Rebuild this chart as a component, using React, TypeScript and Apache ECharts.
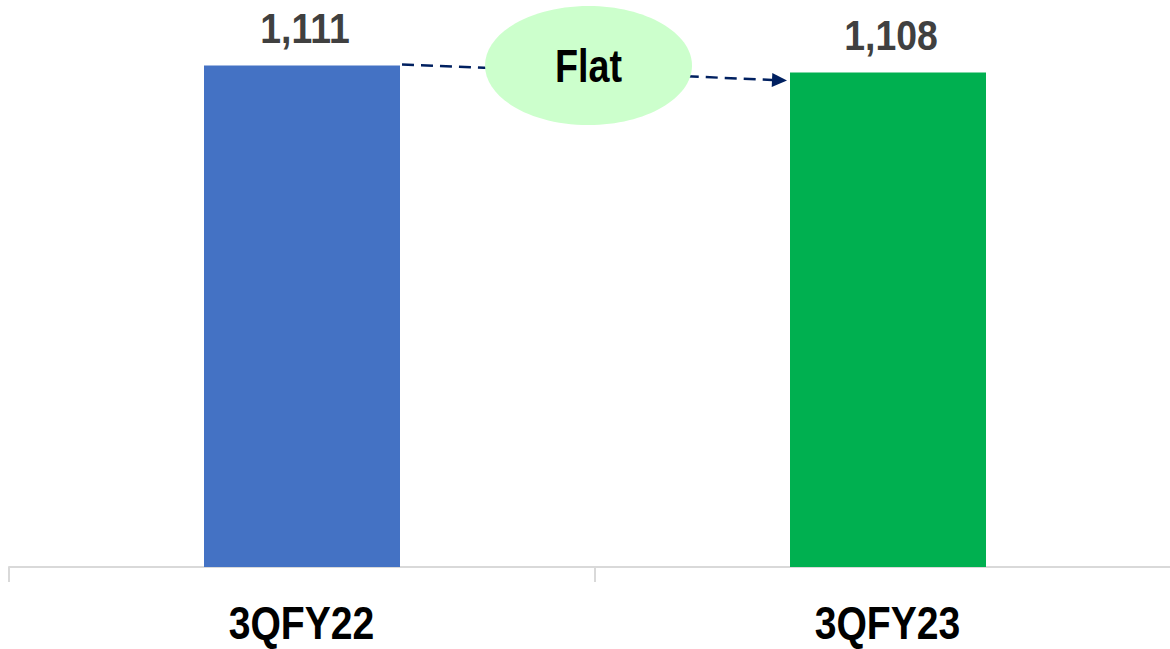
import React, { useEffect, useRef } from "react";
import * as echarts from "echarts";

const categories = ["3QFY22", "3QFY23"];
const values = [1111, 1108];
const barColors = ["#4472C4", "#00B050"];
const noteText = "Flat";

const FONT = "'Liberation Sans', Arial, sans-serif";

export default function App() {
  const ref = useRef<HTMLDivElement>(null);

  useEffect(() => {
    document.body.style.margin = "0";
    if (!ref.current) return;
    const chart = echarts.init(ref.current, undefined, { renderer: "svg" });
    const option: any = {
      animation: false,
      backgroundColor: "#ffffff",
      grid: { left: 9, width: 1172, top: 44, bottom: 82, containLabel: false },
      xAxis: {
        type: "category",
        data: categories,
        axisLine: { show: true, lineStyle: { color: "#d9d9d9", width: 2 } },
        axisTick: { show: true, length: 15, lineStyle: { color: "#d9d9d9", width: 2 } },
        axisLabel: { show: false },
      },
      yAxis: {
        type: "value",
        min: 900,
        max: 1120,
        show: false,
        splitLine: { show: false },
      },
      series: [
        {
          type: "bar",
          barWidth: 196,
          data: values.map((v, i) => ({ value: v, itemStyle: { color: barColors[i] } })),
        },
      ],
    };
    chart.setOption(option);

    const pts = values.map((v, i) => chart.convertToPixel({ gridIndex: 0 }, [i, v]) as number[]);
    const base = chart.convertToPixel({ gridIndex: 0 }, [0, 900]) as number[];
    const p0 = pts[0];
    const p1 = pts[1];
    const half = 98;
    const x0 = p0[0] + half + 2;
    const y0 = p0[1] - 1;
    const tipX = p1[0] - half - 3;
    const tipY = p1[1] + 8;
    const ang = Math.atan2(tipY - y0, tipX - x0);
    const L = 15;
    const W = 7;
    const bx = tipX - L * Math.cos(ang);
    const by = tipY - L * Math.sin(ang);
    const nx = -Math.sin(ang);
    const ny = Math.cos(ang);
    const cx = (p0[0] + p1[0]) / 2 - 6.5;
    const cy = 65.5;

    const valueLabels = values.map((v, i) => ({
      type: "text",
      z: 30,
      x: pts[i][0] + 3,
      y: pts[i][1] - 37,
      scaleX: 0.89,
      style: {
        text: v.toLocaleString("en-US"),
        fontFamily: FONT,
        fontSize: 42,
        lineHeight: 42,
        fontWeight: "bold",
        fill: "#404040",
        align: "center",
        verticalAlign: "middle",
      },
    }));

    const catLabels = categories.map((c, i) => ({
      type: "text",
      z: 30,
      x: pts[i][0] - 0.5,
      y: base[1] + 56,
      scaleX: 0.85,
      style: {
        text: c,
        fontFamily: FONT,
        fontSize: 46,
        lineHeight: 40,
        fontWeight: "bold",
        fill: "#000000",
        align: "center",
        verticalAlign: "middle",
      },
    }));

    chart.setOption({
      graphic: [
        {
          type: "line",
          z: 10,
          shape: { x1: x0, y1: y0, x2: bx, y2: by },
          style: { stroke: "#002060", lineWidth: 2.5, lineDash: [12, 7] },
        },
        {
          type: "polygon",
          z: 10,
          shape: {
            points: [
              [tipX, tipY],
              [bx + nx * W, by + ny * W],
              [bx - nx * W, by - ny * W],
            ],
          },
          style: { fill: "#002060" },
        },
        {
          type: "ellipse",
          z: 20,
          shape: { cx, cy, rx: 103.5, ry: 59.5 },
          style: { fill: "#CCFFCC" },
        },
        {
          type: "text",
          z: 30,
          x: cx,
          y: cy + 1,
          scaleX: 0.82,
          style: {
            text: noteText,
            fontFamily: FONT,
            fontSize: 46,
            lineHeight: 46,
            fontWeight: "bold",
            fill: "#000000",
            align: "center",
            verticalAlign: "middle",
          },
        },
        ...valueLabels,
        ...catLabels,
      ],
    });

    return () => chart.dispose();
  }, []);

  return (
    <div style={{ width: 1170, height: 649, overflow: "hidden", position: "relative" }}>
      <div ref={ref} style={{ width: 1190, height: 649 }} />
    </div>
  );
}
